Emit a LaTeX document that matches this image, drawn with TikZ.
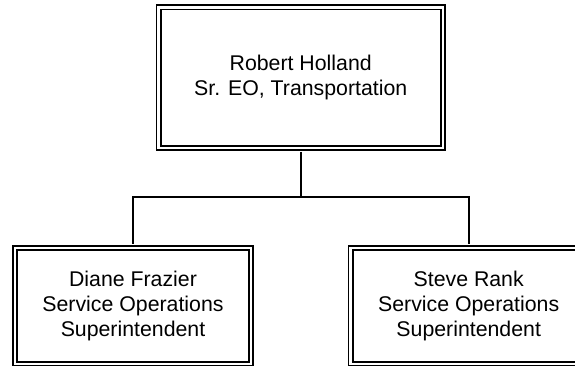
\documentclass[tikz,border=0pt]{standalone}
\usepackage{fontspec}
\setmainfont{Liberation Sans}
\begin{document}
\begin{tikzpicture}[x=1pt,y=-1pt,
  box/.style={draw=black, line width=1.8pt, double=white, double distance=2.4pt,
    fill=white, inner sep=0pt, align=center, font=\fontsize{21.3}{25.3}\selectfont},
  conn/.style={draw=black, line width=2pt}]
\useasboundingbox (0,0) rectangle (575,365);
\clip (0,0) rectangle (575,365);
\fill[white] (0,0) rectangle (575,365);
\node[box, minimum width=284.3pt, minimum height=140.5pt] (top) at (300.7,77.6)
  {Robert Holland\\Sr. EO, Transportation};
\node[box, minimum width=236.2pt, minimum height=116.3pt] (left) at (133,305.85)
  {Diane Frazier\\Service Operations\\Superintendent};
\node[box, minimum width=236.2pt, minimum height=116.3pt] (right) at (468.7,305.85)
  {Steve Rank\\Service Operations\\Superintendent};
\draw[conn, shorten <=3pt] (top.south) -- (top.south |- 0,197.3) coordinate (j);
\draw[conn, shorten >=3pt] (j -| left.north) coordinate (jl) -- (left.north);
\draw[conn, shorten >=3pt] (j -| right.north) coordinate (jr) -- (right.north);
\draw[conn, line cap=rect] (jl) -- (jr);
\end{tikzpicture}
\end{document}
